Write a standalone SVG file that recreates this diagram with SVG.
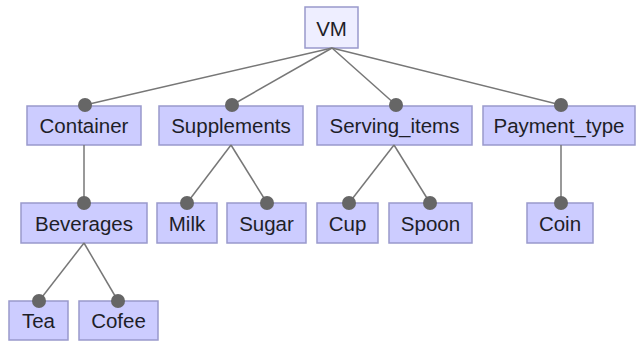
<svg xmlns="http://www.w3.org/2000/svg" width="636" height="343" viewBox="0 0 636 343">
  <defs>
    <style>
      .box { fill: #ccccff; stroke: #9999cc; stroke-width: 1.5; }
      .root { fill: #eeeeff; stroke: #9999cc; stroke-width: 1.5; }
      .lbl { font-family: "Liberation Sans", Arial, sans-serif; font-size: 20.5px; fill: #1e1e28; text-anchor: middle; }
      .edge { stroke: #777; stroke-width: 1.5; fill: none; }
      .dot { fill: #666; }
    </style>
  </defs>
  <rect width="636" height="343" fill="#ffffff"/>

  <g id="VM"><rect class="root" x="305" y="7" width="53" height="41"/><text class="lbl" x="331.5" y="36">VM</text></g>

  <g id="Container"><rect class="box" x="27" y="106" width="114" height="39"/><text class="lbl" x="84" y="133">Container</text></g>
  <g id="Supplements"><rect class="box" x="159" y="106" width="144" height="39"/><text class="lbl" x="231" y="133">Supplements</text></g>
  <g id="Serving_items"><rect class="box" x="317" y="106" width="155" height="39"/><text class="lbl" x="394.5" y="133">Serving_items</text></g>
  <g id="Payment_type"><rect class="box" x="483" y="106" width="152" height="39"/><text class="lbl" x="559" y="133">Payment_type</text></g>

  <g id="Beverages"><rect class="box" x="21" y="203" width="126" height="40"/><text class="lbl" x="84" y="231">Beverages</text></g>
  <g id="Milk"><rect class="box" x="157" y="203" width="60" height="40"/><text class="lbl" x="187" y="231">Milk</text></g>
  <g id="Sugar"><rect class="box" x="227" y="203" width="79" height="40"/><text class="lbl" x="266.5" y="231">Sugar</text></g>
  <g id="Cup"><rect class="box" x="317" y="203" width="61" height="40"/><text class="lbl" x="347.5" y="231">Cup</text></g>
  <g id="Spoon"><rect class="box" x="389" y="203" width="83" height="40"/><text class="lbl" x="430.5" y="231">Spoon</text></g>
  <g id="Coin"><rect class="box" x="527" y="203" width="66" height="40"/><text class="lbl" x="560" y="231">Coin</text></g>

  <g id="Tea"><rect class="box" x="9" y="301" width="59" height="39"/><text class="lbl" x="38.5" y="328">Tea</text></g>
  <g id="Cofee"><rect class="box" x="79" y="301" width="79" height="39"/><text class="lbl" x="118.5" y="328">Cofee</text></g>

  <!-- connectors: parent bottom edge to a dot sitting on the child's top edge -->
  <g id="connectors">
    <line class="edge" x1="332" y1="48" x2="85" y2="105"/>
    <line class="edge" x1="332" y1="48" x2="232" y2="105"/>
    <line class="edge" x1="332" y1="48" x2="396" y2="105"/>
    <line class="edge" x1="332" y1="48" x2="561" y2="105"/>
    <line class="edge" x1="84" y1="145" x2="84" y2="203"/>
    <line class="edge" x1="231" y1="145" x2="187" y2="203"/>
    <line class="edge" x1="231" y1="145" x2="267" y2="203"/>
    <line class="edge" x1="394" y1="145" x2="349" y2="203"/>
    <line class="edge" x1="394" y1="145" x2="430" y2="203"/>
    <line class="edge" x1="561" y1="145" x2="561" y2="203"/>
    <line class="edge" x1="84" y1="243" x2="39" y2="301"/>
    <line class="edge" x1="84" y1="243" x2="118" y2="301"/>
    <circle class="dot" cx="85" cy="105" r="7"/>
    <circle class="dot" cx="232" cy="105" r="7"/>
    <circle class="dot" cx="396" cy="105" r="7"/>
    <circle class="dot" cx="561" cy="105" r="7"/>
    <circle class="dot" cx="84" cy="203" r="7"/>
    <circle class="dot" cx="187" cy="203" r="7"/>
    <circle class="dot" cx="267" cy="203" r="7"/>
    <circle class="dot" cx="349" cy="203" r="7"/>
    <circle class="dot" cx="430" cy="203" r="7"/>
    <circle class="dot" cx="561" cy="203" r="7"/>
    <circle class="dot" cx="39" cy="301" r="7"/>
    <circle class="dot" cx="118" cy="301" r="7"/>
  </g>
</svg>
